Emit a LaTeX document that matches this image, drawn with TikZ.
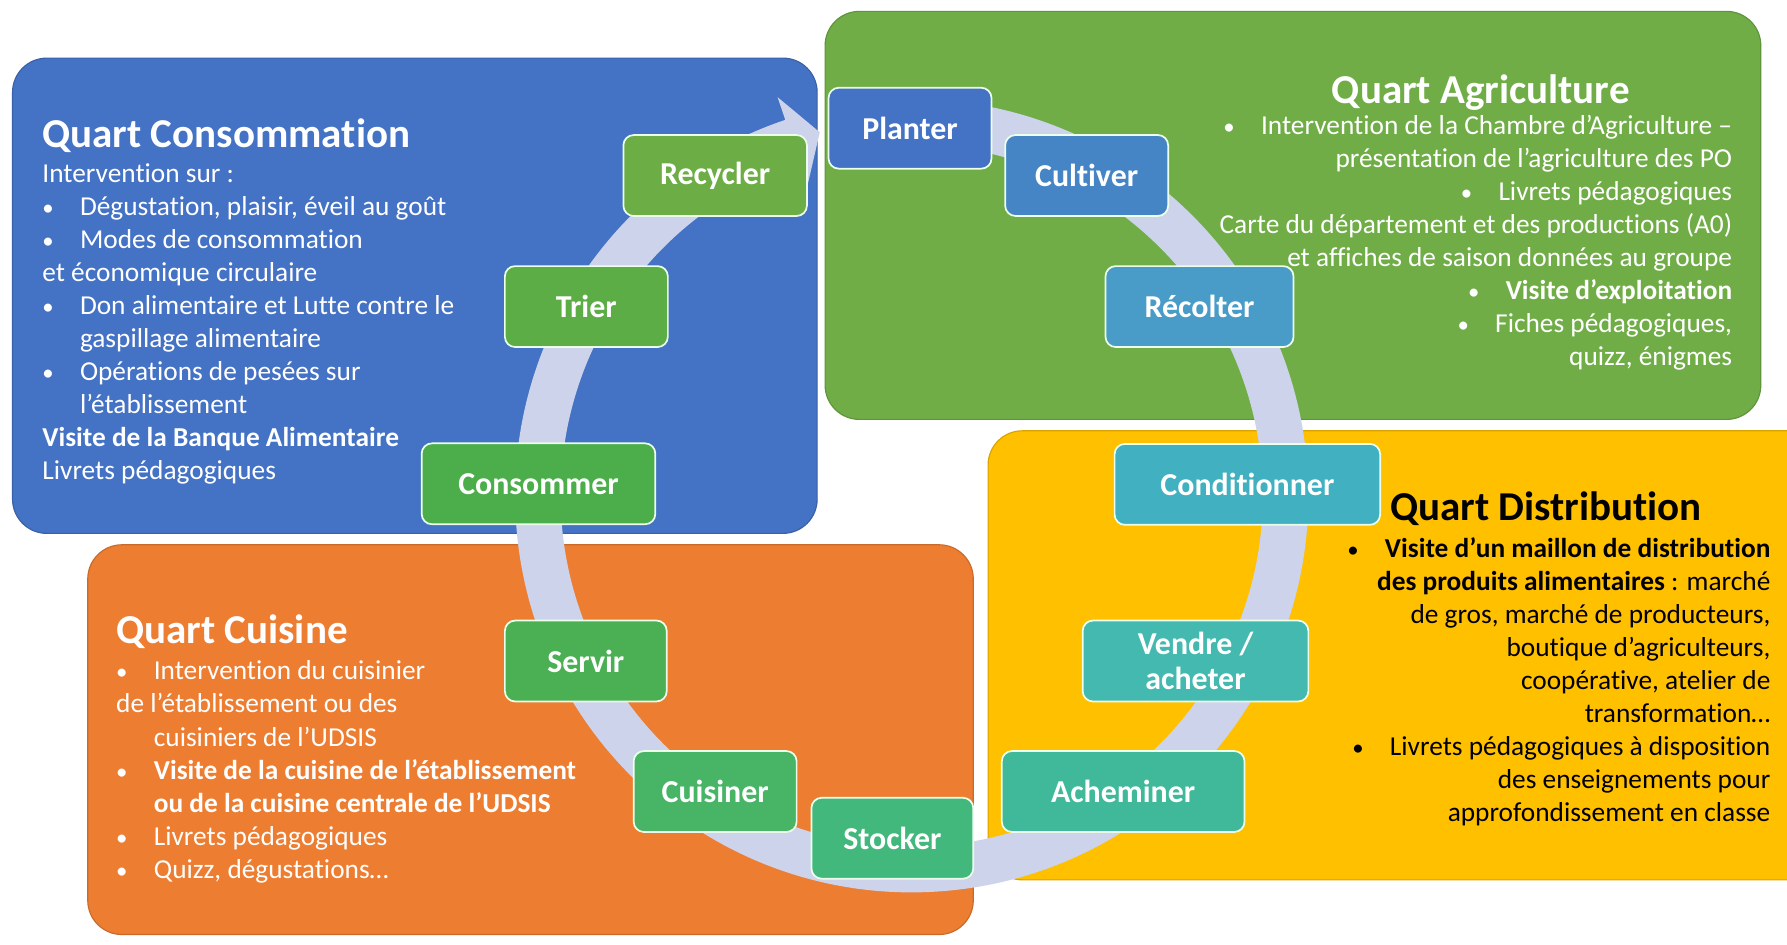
\documentclass[tikz,border=0pt]{standalone}
\usepackage{fontspec}
\setmainfont{Carlito}[Ligatures=NoCommon]
\definecolor{bleuquart}{HTML}{4472C4}
\definecolor{vertquart}{HTML}{70AD47}
\definecolor{orangequart}{HTML}{ED7D31}
\definecolor{jaunequart}{HTML}{FFC000}
\definecolor{bande}{HTML}{CDD3EA}
\definecolor{cplanter}{HTML}{4472C4}
\definecolor{ccultiver}{HTML}{4585C5}
\definecolor{crecolter}{HTML}{4A9CC8}
\definecolor{cconditionner}{HTML}{41B0C0}
\definecolor{cvendre}{HTML}{44B9B0}
\definecolor{cacheminer}{HTML}{3FB99A}
\definecolor{cstocker}{HTML}{43B87C}
\definecolor{ccuisiner}{HTML}{47B466}
\definecolor{cservir}{HTML}{4AB053}
\definecolor{cconsommer}{HTML}{4BAE4A}
\definecolor{ctrier}{HTML}{5CAD45}
\definecolor{crecycler}{HTML}{6CAD46}
\newcommand{\puce}{\makebox[33pt][l]{\fontsize{20}{29}\selectfont•}}
\newcommand{\retrait}{\hspace*{33pt}}
\tikzset{
  quart/.style={rounded corners=30pt, line width=1pt},
  etape/.style={draw=white!92!green, line width=1.5pt, rounded corners=9pt, text=white,
    font=\fontsize{28}{31}\selectfont\bfseries, minimum height=71pt, inner sep=0pt, align=center},
  titre/.style={anchor=base west, inner sep=0pt, font=\fontsize{36}{43}\selectfont\bfseries},
  corps/.style={inner sep=0pt, font=\fontsize{24}{29}\selectfont},
}
\begin{document}
\begin{tikzpicture}[x=1pt,y=-1pt]
  \useasboundingbox (0,0) rectangle (1568,829);
  \clip (0,0) rectangle (1568,829);
  \fill[white] (0,0) rectangle (1568,829);

  %%%%% les quatre quarts %%%%%
  \draw[quart, fill=bleuquart, draw=bleuquart!85!black] (11,51) rectangle (717,468);
  \draw[quart, fill=vertquart, draw=vertquart!85!black] (724,10) rectangle (1545,368);
  \draw[quart, fill=orangequart, draw=orangequart!85!black] (77,478) rectangle (854,820);
  \draw[quart, fill=jaunequart, draw=jaunequart!85!black] (867,378) rectangle (1600,772);

  %%%%% fleche du cycle %%%%%
  \begin{scope}[shift={(800,435)}]
    \fill[bande] (-95:348) arc[start angle=-95, end angle=251.4, radius=348]
      -- (251.4:369) -- (255.8:329) -- (251.4:287) -- (251.4:308)
      arc[start angle=251.4, end angle=-95, radius=308] -- cycle;
  \end{scope}

  %%%%% etapes %%%%%
  \node[etape, fill=cplanter, minimum width=143pt] (planter) at (798.5,112.5) {Planter};
  \node[etape, fill=ccultiver, minimum width=143pt] (cultiver) at (953.5,154) {Cultiver};
  \node[etape, fill=crecolter, minimum width=165pt] (recolter) at (1052.5,269) {Récolter};
  \node[etape, fill=cconditionner, minimum width=233pt] (conditionner) at (1094.5,425) {Conditionner};
  \node[etape, fill=cvendre, minimum width=198pt] (vendre) at (1049,580) {Vendre /\\acheter};
  \node[etape, fill=cacheminer, minimum width=213pt] (acheminer) at (985.5,694.5) {Acheminer};
  \node[etape, fill=cstocker, minimum width=142pt] (stocker) at (783,735.5) {Stocker};
  \node[etape, fill=ccuisiner, minimum width=143pt] (cuisiner) at (627.5,694.5) {Cuisiner};
  \node[etape, fill=cservir, minimum width=142pt] (servir) at (514,580) {Servir};
  \node[etape, fill=cconsommer, minimum width=205pt] (consommer) at (472.5,424.5) {Consommer};
  \node[etape, fill=ctrier, minimum width=143pt] (trier) at (514.5,269) {Trier};
  \node[etape, fill=crecycler, minimum width=161pt] (recycler) at (627.5,154) {Recycler};

  %%%%% Quart Consommation %%%%%
  \node[titre, text=white] (titreconso) at (37,129) {Quart Consommation};
  \node[corps, text=white, anchor=base west, align=left] (texteconso) at (37,421) {Intervention sur :\\
    \puce Dégustation, plaisir, éveil au goût\\
    \puce Modes de consommation\\
    et économique circulaire\\
    \puce Don alimentaire et Lutte contre le\\
    \retrait gaspillage alimentaire\\
    \puce Opérations de pesées sur\\
    \retrait l’établissement\\
    \textbf{Visite de la Banque Alimentaire}\\
    Livrets pédagogiques};

  %%%%% Quart Agriculture %%%%%
  \node[titre, text=white] (titreagri) at (1168.5,90.7) {Quart Agriculture};
  \node[corps, text=white, anchor=base east, align=right] (texteagri) at (1520,320.6) {\puce Intervention de la Chambre d’Agriculture –\\
    présentation de l’agriculture des PO\\
    \puce Livrets pédagogiques\\
    Carte du département et des productions (A0)\\
    et affiches de saison données au groupe\\
    \puce\textbf{Visite d’exploitation}\\
    \puce Fiches pédagogiques,\\
    quizz, énigmes};

  %%%%% Quart Distribution %%%%%
  \node[titre, text=black] (titredistri) at (1219.6,456.3) {Quart Distribution};
  \node[corps, text=black, anchor=base east, align=right] (textedistri) at (1553.6,721) {\puce\textbf{Visite d’un maillon de distribution}\\
    \textbf{des produits alimentaires} : marché\\
    de gros, marché de producteurs,\\
    boutique d’agriculteurs,\\
    coopérative, atelier de\\
    transformation…\\
    \puce Livrets pédagogiques à disposition\\
    des enseignements pour\\
    approfondissement en classe};

  %%%%% Quart Cuisine %%%%%
  \node[titre, text=white] (titrecuisine) at (101.8,564.5) {Quart Cuisine};
  \node[corps, text=white, anchor=base west, align=left] (textecuisine) at (101.8,770.6) {\puce Intervention du cuisinier\\
    de l’établissement ou des\\
    \retrait cuisiniers de l’UDSIS\\
    \puce\textbf{Visite de la cuisine de l’établissement}\\
    \retrait\textbf{ou de la cuisine centrale de l’UDSIS}\\
    \puce Livrets pédagogiques\\
    \puce Quizz, dégustations…};
\end{tikzpicture}
\end{document}
